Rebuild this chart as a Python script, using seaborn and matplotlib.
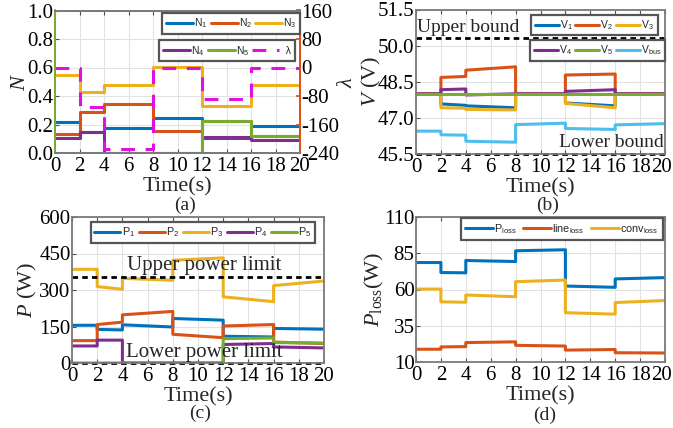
import matplotlib
matplotlib.use("Agg")
import matplotlib.pyplot as plt
import matplotlib.transforms as mtransforms
import seaborn as sns

# ---------------------------------------------------------------- data
# switching instants of the test sequence (s)
t_edges = [0, 2, 4, 8, 12, 16, 20]
time_ticks = [0, 2, 4, 6, 8, 10, 12, 14, 16, 18, 20]

# (a) sharing factors N1..N5 and multiplier lambda, one level per interval
N1 = [0.215, 0.145, 0.175, 0.245, 0.105, 0.19]
N2 = [0.135, 0.29, 0.345, 0.155, 0.228, 0.121]
N3 = [0.545, 0.43, 0.48, 0.605, 0.33, 0.478]
N4 = [0.105, 0.145, 0.0, 0.0, 0.115, 0.09]
N5 = [0.0, 0.0, 0.0, 0.0, 0.228, 0.121]
lam = [0, -110, -228, 0, -88, 0]

# (b) converter and bus voltages (V): value at start / end of each interval
V1_start = [48.0, 47.58, 47.5, 48.0, 47.62, 48.0]
V1_end = [48.0, 47.52, 47.42, 48.0, 47.5, 48.0]
V2_start = [48.0, 48.68, 48.98, 48.0, 48.78, 48.0]
V2_end = [48.0, 48.72, 49.12, 48.0, 48.82, 48.0]
V3_start = [48.0, 47.42, 47.35, 48.0, 47.6, 48.0]
V3_end = [48.0, 47.4, 47.33, 48.0, 47.42, 48.0]
V4_start = [48.0, 48.17, 47.95, 48.0, 48.1, 48.0]
V4_end = [48.0, 48.2, 48.0, 48.0, 48.17, 48.0]
V5_start = [48.0, 48.0, 48.0, 48.0, 48.0, 48.0]
V5_end = [48.0, 48.0, 48.0, 48.0, 48.0, 48.0]
Vbus_start = [46.45, 46.3, 46.03, 46.72, 46.56, 46.71]
Vbus_end = [46.45, 46.28, 45.99, 46.78, 46.52, 46.76]
V_upper = 50.3
V_lower = 45.5

# (c) converter output powers (W)
P1_start = [155, 138, 157, 183, 110, 142]
P1_end = [155, 136, 148, 176, 107, 139]
P2_start = [92, 158, 198, 118, 152, 86]
P2_end = [92, 168, 212, 104, 158, 80]
P3_start = [385, 314, 348, 422, 272, 318]
P3_end = [385, 303, 340, 432, 252, 337]
P4_start = [70, 94, 0, 0, 76, 66]
P4_end = [70, 94, 0, 0, 80, 62]
P5_start = [0, 0, 0, 0, 100, 84]
P5_end = [0, 0, 0, 0, 103, 82]
P_upper = 352
P_lower = 0

# (d) losses (W)
Ploss_start = [78.6, 71.7, 80.0, 86.7, 62.4, 67.3]
Ploss_end = [78.6, 71.5, 79.3, 87.4, 61.5, 68.2]
line_start = [18.8, 20.4, 23.4, 21.5, 18.2, 16.4]
line_end = [18.8, 20.6, 23.9, 21.0, 18.6, 16.2]
conv_start = [60.3, 51.5, 56.2, 65.4, 44.0, 51.0]
conv_end = [60.3, 51.2, 55.0, 66.5, 43.0, 52.4]

# ---------------------------------------------------------------- style
sns.set_theme(style="whitegrid")
plt.rcParams["font.family"] = ["Liberation Serif", "DejaVu Serif"]
plt.rcParams["mathtext.fontset"] = "custom"
plt.rcParams["mathtext.rm"] = "Liberation Serif"
plt.rcParams["mathtext.it"] = "Liberation Serif:italic"
plt.rcParams["mathtext.sf"] = "Liberation Sans"

BLUE, RED, YEL = "#0072BD", "#D95319", "#EDB120"
PUR, GRN, CYAN = "#7E2F8E", "#77AC30", "#4DBEEE"
MAG = "#E010E0"

TICK_FS = 15
LAB_FS = 16
LEG_FS = 7.5
W, H = 673, 428


def steps(start, end=None):
    """Piecewise trajectory over the switching intervals."""
    if end is None:
        end = start
    t, y = [], []
    for i in range(len(start)):
        t += [t_edges[i], t_edges[i + 1]]
        y += [start[i], end[i]]
    return t, y


def draw(ax, start, end, color, label, **kw):
    t, y = steps(start, end)
    sns.lineplot(x=t, y=y, ax=ax, estimator=None, sort=False, color=color,
                 lw=kw.pop("lw", 2.2), label=label, legend=False, **kw)


def style_axes(ax, ylim, yticks, yfmt):
    ax.set_xlim(0, 20)
    ax.set_ylim(*ylim)
    ax.set_xticks(time_ticks)
    ax.set_xticklabels([str(v) for v in time_ticks])
    ax.set_yticks(yticks)
    ax.set_yticklabels([yfmt.format(v) for v in yticks])
    ax.tick_params(direction="in", length=3, width=0.8, colors="#505050",
                   labelcolor="black", labelsize=TICK_FS,
                   top=True, bottom=True, left=True)
    ax.tick_params(axis="x", pad=3)
    ax.tick_params(axis="y", pad=1)
    ax.grid(True, color="#e2e2e2", lw=0.8)
    for s in ax.spines.values():
        s.set_color("#7a7a7a")
        s.set_linewidth(1.3)
    ax.set_xlabel("Time(s)", fontsize=LAB_FS, labelpad=1)


def nudge_last_xlabel(ax, dx_px):
    lab = ax.get_xticklabels()[-1]
    off = mtransforms.ScaledTranslation(dx_px / 100, 0, fig.dpi_scale_trans)
    lab.set_transform(lab.get_transform() + off)


def make_legend(ax, handles, labels, anchor, ncol, hl=2.3, cs=0.3, fs=LEG_FS):
    leg = ax.legend(handles, labels, loc="upper right", bbox_to_anchor=anchor,
                    ncol=ncol, frameon=True, fancybox=False,
                    handlelength=hl, handletextpad=0.1, columnspacing=cs,
                    borderpad=0.35, borderaxespad=0.0,
                    prop={"family": "Liberation Sans", "size": fs})
    leg.get_frame().set_edgecolor("#555555")
    leg.get_frame().set_linewidth(1.6)
    leg.get_frame().set_alpha(1)
    return leg


def place(l, t, r, b):
    return fig.add_axes([l / W, 1 - b / H, (r - l) / W, (b - t) / H])


fig = plt.figure(figsize=(W / 100, H / 100), dpi=100)

# ---------------------------------------------------------------- (a)
axA = place(55, 10.5, 300, 153)
axA2 = axA.twinx()
draw(axA, N1, None, BLUE, r"N$_\mathsf{1}$")
draw(axA, N2, None, RED, r"N$_\mathsf{2}$")
draw(axA, N3, None, YEL, r"N$_\mathsf{3}$")
draw(axA, N4, None, PUR, r"N$_\mathsf{4}$")
draw(axA, N5, None, GRN, r"N$_\mathsf{5}$")
draw(axA2, lam, None, MAG, "  λ", linestyle=(0, (4.5, 3.5)))
style_axes(axA, (0, 1), [0, 0.2, 0.4, 0.6, 0.8, 1.0], "{:.1f}")
axA.set_ylabel(r"$N$", fontsize=LAB_FS, labelpad=-2)
axA2.set_ylim(-240, 160)
axA2.set_yticks([-240, -160, -80, 0, 80, 160])
axA2.set_yticklabels(["-240", "-160", "-80", "0", "80", "160"])
axA2.tick_params(direction="in", length=3, colors="#D95319", labelcolor="black",
                 labelsize=TICK_FS, pad=1)
axA2.grid(False)
axA2.set_ylabel(r"$\lambda$", fontsize=LAB_FS, labelpad=-1)
axA2.spines["right"].set_color(RED)
axA2.spines["left"].set_color(GRN)
axA2.spines["top"].set_color("#7a7a7a")
axA2.spines["bottom"].set_color("#7a7a7a")
for s in axA2.spines.values():
    s.set_linewidth(1.3)
axA.spines["left"].set_color(GRN)
axA.spines["right"].set_color(RED)
hA, lA = axA.get_legend_handles_labels()
hA2, lA2 = axA2.get_legend_handles_labels()
legA1 = make_legend(axA2, hA[:3], lA[:3], (1.0, 0.98), 3, hl=2.6)
axA2.add_artist(legA1)
make_legend(axA2, hA[3:] + hA2, lA[3:] + lA2, (0.98, 0.79), 3, hl=2.6)

# ---------------------------------------------------------------- (b)
axB = place(416, 9.5, 665, 154)
draw(axB, V1_start, V1_end, BLUE, r"V$_\mathsf{1}$")
draw(axB, V2_start, V2_end, RED, r"V$_\mathsf{2}$")
draw(axB, V3_start, V3_end, YEL, r"V$_\mathsf{3}$")
draw(axB, V4_start, V4_end, PUR, r"V$_\mathsf{4}$")
draw(axB, V5_start, V5_end, GRN, r"V$_\mathsf{5}$")
draw(axB, Vbus_start, Vbus_end, CYAN, r"V$_\mathsf{bus}$")
style_axes(axB, (45.5, 51.5), [45.5, 47.0, 48.5, 50.0, 51.5], "{:.1f}")
nudge_last_xlabel(axB, -4)
axB.set_ylabel(r"$V$ (V)", fontsize=LAB_FS, labelpad=-4)
axB.axhline(V_upper, color="black", lw=2, ls=(0, (2, 1.5)), clip_on=False)
axB.axhline(V_lower, color="black", lw=2, ls=(0, (2, 1.5)), clip_on=False)
axB.text(0.1, V_upper + 0.1, "Upper bound", fontsize=14, va="bottom", ha="left")
axB.text(19.9, V_lower + 0.12, "Lower bound", fontsize=14, va="bottom", ha="right")
hB, lB = axB.get_legend_handles_labels()
legB1 = make_legend(axB, hB[:3], lB[:3], (0.97, 0.965), 3)
axB.add_artist(legB1)
make_legend(axB, hB[3:], lB[3:], (1.0, 0.79), 3)

# ---------------------------------------------------------------- (c)
axC = place(72, 217, 324, 363)
draw(axC, P1_start, P1_end, BLUE, r"P$_\mathsf{1}$")
draw(axC, P2_start, P2_end, RED, r"P$_\mathsf{2}$")
draw(axC, P3_start, P3_end, YEL, r"P$_\mathsf{3}$")
draw(axC, P4_start, P4_end, PUR, r"P$_\mathsf{4}$")
draw(axC, P5_start, P5_end, GRN, r"P$_\mathsf{5}$")
style_axes(axC, (0, 600), [0, 150, 300, 450, 600], "{:d}")
axC.set_ylabel(r"$P$ (W)", fontsize=LAB_FS, labelpad=0)
axC.axhline(P_upper, color="black", lw=2, ls=(0, (2, 1.5)), clip_on=False)
axC.axhline(P_lower, color="black", lw=2, ls=(0, (2, 1.5)), clip_on=False)
axC.text(10.5, P_upper + 8, "Upper power limit", fontsize=15, ha="center", va="bottom")
axC.text(10.5, P_lower + 4, "Lower power limit", fontsize=15, ha="center", va="bottom")
hC, lC = axC.get_legend_handles_labels()
make_legend(axC, hC, lC, (0.965, 0.965), 5, hl=2.4, cs=0.35, fs=7.8)

# ---------------------------------------------------------------- (d)
axD = place(416, 217, 665, 362)
draw(axD, Ploss_start, Ploss_end, BLUE, r"P$_\mathsf{loss}$")
draw(axD, line_start, line_end, RED, r"line$_\mathsf{loss}$")
draw(axD, conv_start, conv_end, YEL, r"conv$_\mathsf{loss}$")
style_axes(axD, (10, 110), [10, 35, 60, 85, 110], "{:d}")
nudge_last_xlabel(axD, -4)
axD.set_ylabel(r"$P_{\mathrm{loss}}$(W)", fontsize=LAB_FS, labelpad=-1)
hD, lD = axD.get_legend_handles_labels()
make_legend(axD, hD, lD, (0.99, 0.99), 3, hl=2.6, cs=0.6, fs=7.8)

# ---------------------------------------------------------------- captions
for x, y, s in [(185, 205, "(a)"), (548, 205, "(b)"), (200, 413, "(c)"), (545, 415, "(d)")]:
    fig.text(x / W, 1 - y / H, s, fontsize=14, ha="center", va="center")

fig.savefig("out.png", dpi=100)
